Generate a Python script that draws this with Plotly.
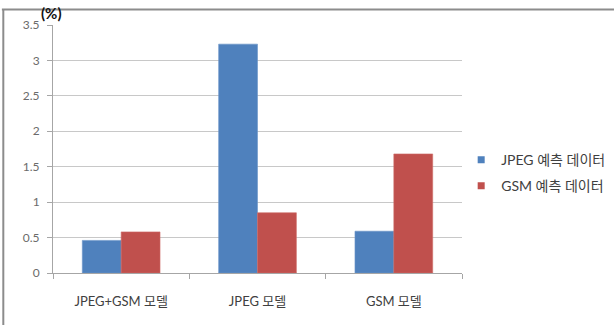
import plotly.graph_objects as go

# Error rate (%) per model for each prediction dataset
models = ["JPEG+GSM 모델", "JPEG 모델", "GSM 모델"]
jpeg_pred = [0.46, 3.23, 0.59]
gsm_pred = [0.58, 0.85, 1.68]
series_names = ["JPEG 예측 데이터", "GSM 예측 데이터"]
series_colors = ["#4F81BD", "#C0504D"]
y_ticks = [0, 0.5, 1, 1.5, 2, 2.5, 3, 3.5]
y_tick_text = ["0", "0.5", "1", "1.5", "2", "2.5", "3", "3.5"]

FONT = "Lato, 'Noto Sans CJK KR', sans-serif"

fig = go.Figure()
fig.add_trace(go.Bar(x=models, y=jpeg_pred, name=series_names[0], showlegend=False,
                     marker=dict(color=series_colors[0], line=dict(color="#6A93C8", width=0.6))))
fig.add_trace(go.Bar(x=models, y=gsm_pred, name=series_names[1], showlegend=False,
                     marker=dict(color=series_colors[1], line=dict(color="#CC6966", width=0.6))))

# Legend entries with small square keys
for i, (name, color) in enumerate(zip(series_names, series_colors)):
    fig.add_trace(go.Scatter(x=[None], y=[None], mode="markers", name=name,
                             legendgroup=f"g{i}",
                             marker=dict(symbol="square", size=7, color=color)))

fig.update_layout(
    width=614, height=325,
    margin=dict(l=53, r=152, t=25, b=52, autoexpand=False),
    paper_bgcolor="white", plot_bgcolor="white",
    barmode="group", bargap=0.43, bargroupgap=0,
    font=dict(family=FONT, size=13, color="#404040"),
    showlegend=True,
    legend=dict(x=0.998, y=0.403, xanchor="left", yanchor="middle",
                font=dict(family=FONT, size=14, color="#404040"),
                itemwidth=30, tracegroupgap=5, traceorder="grouped",
                bgcolor="rgba(0,0,0,0)"),
    xaxis=dict(showgrid=False, showline=True, linecolor="#A6A6A6", linewidth=1,
               ticks="outside", tickson="boundaries", ticklen=5, tickcolor="#A6A6A6",
               ticklabelstandoff=16,
               tickfont=dict(family=FONT, size=13, color="#404040"), zeroline=False),
    yaxis=dict(range=[0, 3.5], tickvals=y_ticks, ticktext=y_tick_text,
               showgrid=True, gridcolor="#C8C8C8", gridwidth=1,
               showline=True, linecolor="#A6A6A6", linewidth=1,
               ticks="outside", ticklen=5, tickcolor="#A6A6A6", ticklabelstandoff=5,
               tickfont=dict(family=FONT, size=12, color="#6B6B6B"), zeroline=False),
)

# Unit label above the value axis
fig.add_annotation(text="<b>(%)</b>", xref="paper", yref="paper", x=-0.003, y=1.05,
                   xanchor="center", yanchor="middle", showarrow=False,
                   font=dict(family=FONT, size=15, color="#111111"))

# Frame edges along the top and left of the chart area
fig.add_shape(type="line", xref="paper", yref="paper", x0=-0.125, x1=1.375, y0=1.062, y1=1.062,
              line=dict(color="#8C8C8C", width=2))
fig.add_shape(type="line", xref="paper", yref="paper", x0=-0.1215, x1=-0.1215, y0=1.062, y1=-0.25,
              line=dict(color="#8C8C8C", width=2))

fig.write_html("out.html")
